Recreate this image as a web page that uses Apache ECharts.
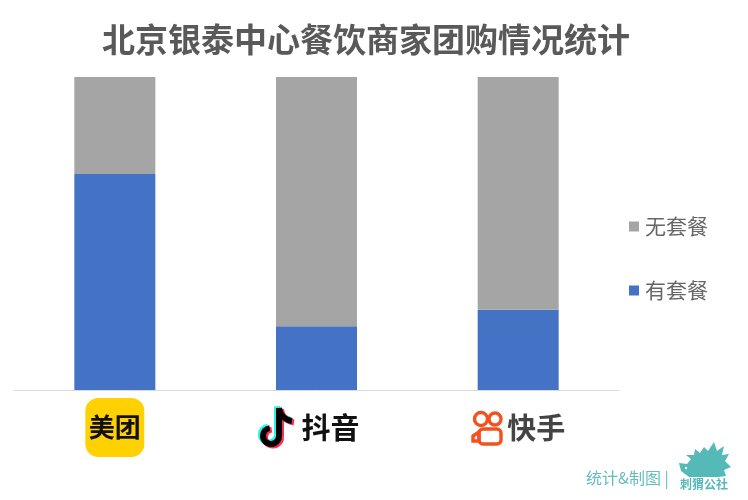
<!DOCTYPE html>
<html>
<head>
<meta charset="utf-8">
<title>北京银泰中心餐饮商家团购情况统计</title>
<style>
    html, body { margin: 0; padding: 0; background: #fff; }
    #chart { width: 748px; height: 500px; }
</style>
<script src="https://cdn.jsdelivr.net/npm/echarts@6/dist/echarts.min.js"></script>
</head>
<body>
<div id="chart"></div>
<script>
const categories = ["美团", "抖音", "快手"];
const withPackage = [69, 20.4, 25.6];
const noPackage = [31, 79.6, 74.4];
const titleText = "北京银泰中心餐饮商家团购情况统计";
const creditText = "统计&制图 |";
const brandText = "刺猬公社";

const cjkFont = '"Noto Sans CJK SC", "Noto Sans", sans-serif';
const chart = echarts.init(document.getElementById("chart"), null, { renderer: "canvas" });

// 抖音 note, one group per colour layer
function note(dx, dy, color) {
    const style = { fill: "none", stroke: color, lineWidth: 6 };
    return {
        type: "group",
        x: dx,
        y: dy,
        children: [
            { type: "line", shape: { x1: 279, y1: 408, x2: 279, y2: 436 }, style: style },
            {
                type: "arc",
                shape: { cx: 271, cy: 436, r: 8, startAngle: 0, endAngle: -Math.PI * 0.55, clockwise: true },
                style: style
            },
            {
                type: "bezierCurve",
                shape: { x1: 279, y1: 408, cpx1: 280, cpy1: 415, cpx2: 285, cpy2: 420, x2: 292, y2: 421 },
                style: style
            }
        ]
    };
}

const kuaishouStyle = { fill: "none", stroke: "#f4511e", lineWidth: 3.4 };

const logos = [
    note(-2, -1.5, "#25f4ee"),
    note(2, 1.5, "#fe2c55"),
    note(0, 0, "#000"),
    { type: "circle", shape: { cx: 481, cy: 419, r: 6.5 }, style: kuaishouStyle },
    { type: "circle", shape: { cx: 495, cy: 419, r: 6 }, style: kuaishouStyle },
    { type: "rect", shape: { x: 479, y: 429, width: 22, height: 15, r: 4 }, style: kuaishouStyle },
    { type: "polygon", shape: { points: [[479, 432], [473, 436], [473, 441], [479, 441]] }, style: kuaishouStyle },
    // 刺猬 mark
    {
        type: "polygon",
        shape: {
            points: [[679, 463], [687, 464], [691, 459], [686, 455], [694, 455], [695, 449], [700, 453], [704, 447],
                [708, 451], [714, 442], [717, 451], [724, 446], [722, 455], [729, 454], [725, 461], [731, 467],
                [724, 470], [726, 476], [718, 477], [689, 477], [681, 471]]
        },
        style: { fill: "#55b9b7" }
    },
    { type: "circle", shape: { cx: 686, cy: 468, r: 1.2 }, style: { fill: "#fff" } },
    {
        type: "text", x: 586, y: 470,
        style: { text: creditText, fontFamily: cjkFont, fontSize: 16, fill: "#64bcc0" }
    },
    {
        type: "text", x: 680, y: 478,
        style: { text: brandText, fontFamily: cjkFont, fontSize: 12, fontWeight: "bold", fill: "#55b9b7" }
    }
];

chart.setOption({
    animation: false,
    title: {
        text: titleText,
        left: 361,
        top: 18,
        textAlign: "center",
        textStyle: { fontFamily: cjkFont, fontSize: 33, fontWeight: "bold", color: "#595959" }
    },
    legend: {
        orient: "vertical",
        left: 624,
        top: 211,
        itemWidth: 10,
        itemHeight: 10,
        itemGap: 43,
        icon: "rect",
        data: ["无套餐", "有套餐"],
        textStyle: { fontFamily: cjkFont, fontSize: 21, color: "#666", padding: [0, 0, 0, 1] }
    },
    grid: { left: 14, top: 77, width: 605, height: 313 },
    xAxis: {
        type: "category",
        data: categories,
        axisTick: { show: false },
        axisLine: { lineStyle: { color: "#d9d9d9", width: 1 } },
        axisLabel: {
            margin: 8,
            verticalAlign: "top",
            formatter: function(name) {
                if (name === "美团") return "{mt|" + name + "}";
                if (name === "抖音") return "{gap|}{dy|" + name + "}";
                return "{gapKs|}{ks|" + name + "}";
            },
            rich: {
                mt: {
                    width: 59, height: 59, lineHeight: 59, align: "center",
                    backgroundColor: "#ffd100", borderRadius: 13,
                    fontFamily: cjkFont, fontSize: 26, fontWeight: "bold", color: "#111"
                },
                gap: { width: 28, height: 59 },
                gapKs: { width: 36, height: 59 },
                dy: { lineHeight: 59, fontFamily: cjkFont, fontSize: 29, fontWeight: "bold", color: "#111" },
                ks: { lineHeight: 59, fontFamily: cjkFont, fontSize: 29, fontWeight: "bold", color: "#444" }
            }
        }
    },
    yAxis: { type: "value", min: 0, max: 100, show: false },
    series: [
        {
            name: "有套餐",
            type: "bar",
            stack: "total",
            barWidth: 81,
            itemStyle: { color: "#4472c4" },
            data: withPackage
        },
        {
            name: "无套餐",
            type: "bar",
            stack: "total",
            barWidth: 81,
            itemStyle: { color: "#a5a5a5" },
            data: noPackage
        }
    ],
    graphic: logos
});
</script>
</body>
</html>
